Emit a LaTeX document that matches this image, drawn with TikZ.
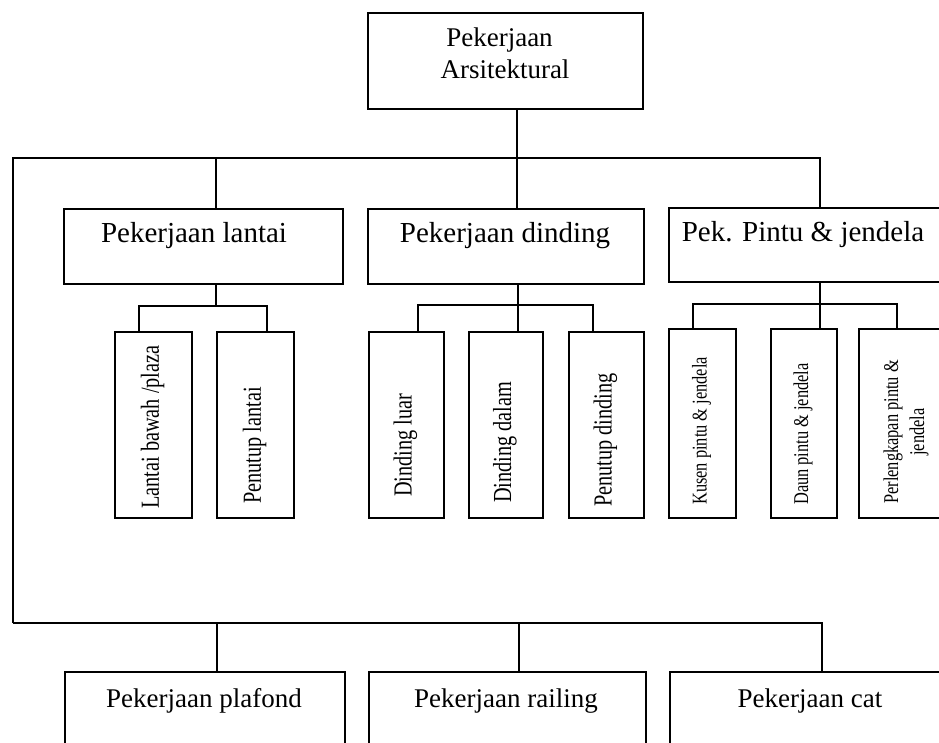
\documentclass[tikz,border=0pt]{standalone}
\usepackage{fontspec}
\setmainfont{Liberation Serif}
\newfontfamily\narrowserif[FakeStretch=0.78]{Liberation Serif}
\begin{document}
\begin{tikzpicture}[x=1pt, y=-1pt,
  box/.style={draw, line width=1.6pt, inner sep=0pt, anchor=north west},
  conn/.style={line width=1.6pt},
  lblA/.style={inner sep=0pt, anchor=base, font=\fontsize{27}{32}\selectfont},
  lblB/.style={inner sep=0pt, anchor=base, font=\fontsize{29}{33}\selectfont},
  vlbl/.style={inner sep=0pt, rotate=90, anchor=west, font=\narrowserif\fontsize{26}{30}\selectfont},
  vlblsm/.style={inner sep=0pt, rotate=90, anchor=west, align=center, font=\narrowserif\fontsize{21}{26}\selectfont}]
\useasboundingbox (0,0) rectangle (939,743);
\clip (0,0) rectangle (939,743);

% root
\node[box, minimum width=275pt, minimum height=96pt] (root) at (367,12) {};
\node[lblA] (rootT1) at (499.5,47) {Pekerjaan};
\node[lblA] (rootT2) at (505,79) {Arsitektural};

% second level
\node[box, minimum width=279pt, minimum height=75pt] (lantai) at (63,208) {};
\node[box, minimum width=276pt, minimum height=75pt] (dinding) at (367,208) {};
\node[box, minimum width=290pt, minimum height=74pt] (pintu) at (668,207) {};
\node[lblB] (lantaiT) at (194,243) {Pekerjaan lantai};
\node[lblB] (dindingT) at (505,243) {Pekerjaan dinding};
\node[lblB] (pintuT) at (803,242) {Pek. Pintu \& jendela};

% third level under lantai
\node[box, minimum width=77pt, minimum height=186pt] (l1) at (114,331) {};
\node[box, minimum width=77pt, minimum height=186pt] (l2) at (216,331) {};
\node[vlbl] (l1T) at (152.5,509) {Lantai bawah /plaza};
\node[vlbl] (l2T) at (254.5,504) {Penutup lantai};

% third level under dinding
\node[box, minimum width=75pt, minimum height=186pt] (d1) at (368,331) {};
\node[box, minimum width=74pt, minimum height=186pt] (d2) at (468,331) {};
\node[box, minimum width=75pt, minimum height=186pt] (d3) at (568,331) {};
\node[vlbl] (d1T) at (405.5,497) {Dinding luar};
\node[vlbl] (d2T) at (505,503) {Dinding dalam};
\node[vlbl] (d3T) at (605.5,507) {Penutup dinding};

% third level under pintu & jendela
\node[box, minimum width=67pt, minimum height=189pt] (p1) at (668,328) {};
\node[box, minimum width=66pt, minimum height=189pt] (p2) at (770,328) {};
\node[box, minimum width=92pt, minimum height=189pt] (p3) at (858,328) {};
\node[vlblsm] (p1T) at (701.5,505) {Kusen pintu \& jendela};
\node[vlblsm] (p2T) at (803,505) {Daun pintu \& jendela};
\node[vlblsm] (p3T) at (906,504) {Perlengkapan pintu \&\\ jendela};

% bottom level
\node[box, minimum width=280pt, minimum height=90pt] (plafond) at (64,671) {};
\node[box, minimum width=277pt, minimum height=90pt] (railing) at (368,671) {};
\node[box, minimum width=285pt, minimum height=90pt] (cat) at (669,671) {};
\node[lblA] (plafondT) at (204,707) {Pekerjaan plafond};
\node[lblA] (railingT) at (506,707) {Pekerjaan railing};
\node[lblA] (catT) at (810,707) {Pekerjaan cat};

% bus coordinates
\coordinate (busTL) at (13,158);
\coordinate (busTR) at (820,158);
\coordinate (busBL) at (13,623);
\coordinate (busBR) at (822,623);
\coordinate (dropL) at (216,158);
\coordinate (dropPl) at (217,623);
\coordinate (dropRl) at (519,623);

% root to upper bus
\draw[conn] (root.south -| 517,0) -- (517,158);
\draw[conn] (busBL) -- (busTL) -- (busTR) -- (pintu.north -| busTR);
\draw[conn] (dropL) -- (lantai.north -| dropL);
\draw[conn] (517,158) -- (dinding.north -| 517,0);

% lantai branch
\coordinate (lbL) at (139,306);
\coordinate (lbR) at (267,306);
\draw[conn] (lantai.south -| 216,0) -- (216,306);
\draw[conn] (l1.north -| lbL) -- (lbL) -- (lbR) -- (l2.north -| lbR);

% dinding branch
\coordinate (dbL) at (418,305);
\coordinate (dbR) at (593,305);
\draw[conn] (dinding.south -| 518,0) -- (d2.north -| 518,0);
\draw[conn] (d1.north -| dbL) -- (dbL) -- (dbR) -- (d3.north -| dbR);

% pintu branch
\coordinate (pbL) at (693,304);
\coordinate (pbR) at (897,304);
\draw[conn] (pintu.south -| 820,0) -- (p2.north -| 820,0);
\draw[conn] (p1.north -| pbL) -- (pbL) -- (pbR) -- (p3.north -| pbR);

% lower bus
\draw[conn] (busBL) -- (busBR) -- (cat.north -| busBR);
\draw[conn] (dropPl) -- (plafond.north -| dropPl);
\draw[conn] (dropRl) -- (railing.north -| dropRl);
\end{tikzpicture}
\end{document}
